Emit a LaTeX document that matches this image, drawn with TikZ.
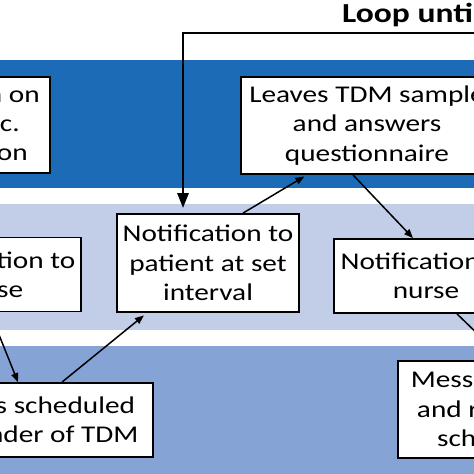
\documentclass[tikz,border=0pt]{standalone}
\usepackage{fontspec}
\setmainfont[FakeStretch=1.22]{Carlito}
\usetikzlibrary{arrows.meta,calc}
\definecolor{banddark}{RGB}{27,107,183}
\definecolor{bandlight}{RGB}{194,205,232}
\definecolor{bandmid}{RGB}{134,163,214}
\begin{document}
\begin{tikzpicture}[x=1pt,y=-1pt,
  box/.style={draw=black, line width=1.8pt, fill=white, align=center, inner sep=0pt,
    font=\fontsize{24}{29.3}\selectfont},
  flow/.style={line width=1.5pt, -{Triangle[length=9pt,width=7pt]}},
  loopline/.style={line width=2.7pt, -{Triangle[length=15pt,width=11pt]}}]
\useasboundingbox (0,0) rectangle (474,474);
\clip (0,0) rectangle (474,474);
\fill[white] (0,0) rectangle (474,474);
% bands
\fill[banddark] (0,60) rectangle (474,188);
\fill[bandlight] (0,204) rectangle (474,330);
\fill[bandmid] (0,346) rectangle (474,474);
% title
\node[anchor=base west, inner sep=0pt, font=\bfseries\fontsize{27.5}{30}\selectfont] (title) at (342,22) {Loop until};
% boxes
\node[box, minimum width=175.6pt, minimum height=96pt] (info) at (-37.8,125) {Education on\\TDM, etc.\\application};
\node[box, minimum width=252pt, minimum height=97pt] (leaves) at (367,125.5) {Leaves TDM sample\\and answers\\questionnaire};
\node[box, minimum width=182pt, minimum height=74pt] (nurseL) at (-10,274.5) {Notification to\\nurse};
\node[box, minimum width=182pt, minimum height=98pt] (patient) at (208,263) {Notification to\\patient at set\\interval};
\node[box, minimum width=184pt, minimum height=74pt] (nurseR) at (426,276) {Notification to\\nurse};
\node[box, minimum width=234pt, minimum height=74pt] (remind) at (36,420) {Sends scheduled\\reminder of TDM};
\node[box, minimum width=199pt, minimum height=97pt] (msg) at (497.7,409.5) {Messages sent\\and reminder\\scheduled};
% loop connector
\coordinate (loopR) at (490,33);
\coordinate (loopC) at (183,33);
\draw[loopline, shorten >=5pt] (loopR) -- (loopC) -- (loopC |- patient.north);
% flow connectors
\draw[flow, shorten >=3pt] ($(patient.north)+(35,0)$) -- ($(leaves.south)+(-60,0)$);
\draw[flow] ($(leaves.south)+(-14,0)$) -- ($(nurseR.north)+(-13,0)$);
\draw[flow] ($(nurseR.south)+(31,0)$) -- ($(msg.north)+(7,0)$);
\draw[flow] (nurseL.south) -- ($(remind.north)+(-18,0)$);
\draw[flow, shorten >=4pt] ($(remind.north)+(26,0)$) -- ($(patient.south)+(-61,0)$);
\end{tikzpicture}
\end{document}
